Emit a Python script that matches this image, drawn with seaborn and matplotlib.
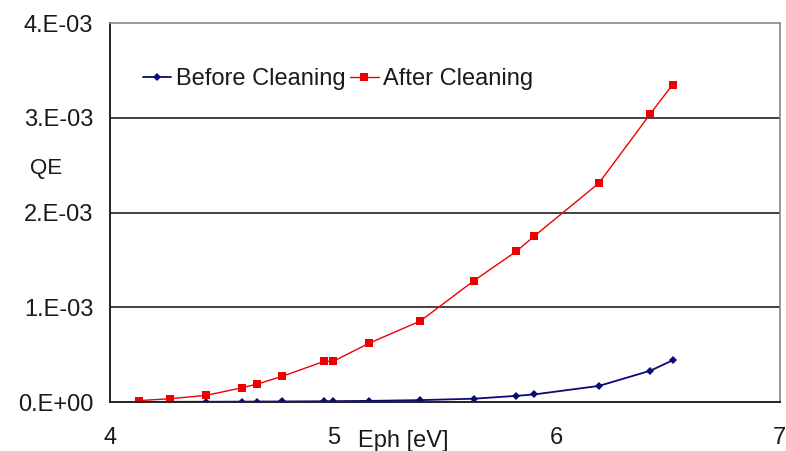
import matplotlib
matplotlib.use("Agg")
import matplotlib.pyplot as plt
import seaborn as sns
import pandas as pd
from matplotlib.ticker import MultipleLocator

eph = [4.13, 4.27, 4.43, 4.59, 4.66, 4.77, 4.96, 5.00, 5.16, 5.39, 5.63, 5.82, 5.90, 6.19, 6.42, 6.52]
qe_after = [1.5e-5, 3.5e-5, 7.0e-5, 1.5e-4, 1.9e-4, 2.7e-4, 4.3e-4, 4.3e-4, 6.2e-4, 8.55e-4,
            1.28e-3, 1.59e-3, 1.75e-3, 2.31e-3, 3.04e-3, 3.35e-3]
qe_before = [1e-6, 2e-6, 3e-6, 4e-6, 5e-6, 6e-6, 8e-6, 9e-6, 1.2e-5, 2.0e-5,
             3.5e-5, 6.5e-5, 8.0e-5, 1.7e-4, 3.3e-4, 4.4e-4]
y_ticks = [0.0, 1e-3, 2e-3, 3e-3, 4e-3]
y_labels = ["0.E+00", "1.E-03", "2.E-03", "3.E-03", "4.E-03"]
x_ticks = [4, 5, 6, 7]
series_names = ["Before Cleaning", "After Cleaning"]

sns.set_style("white")
plt.rcParams['font.family'] = ['Liberation Sans', 'DejaVu Sans']

df = pd.concat([
    pd.DataFrame({"Eph": eph, "QE": qe_before, "series": series_names[0]}),
    pd.DataFrame({"Eph": eph, "QE": qe_after, "series": series_names[1]}),
])

fig = plt.figure(figsize=(7.86, 4.51), dpi=100)
ax = fig.add_axes([0.140, 0.1086, 0.852, 0.8404])

sns.lineplot(data=df[df.series == series_names[0]], x="Eph", y="QE", ax=ax,
             color="#0a0a78", marker="D", markersize=4, markeredgewidth=0,
             linewidth=1.3, label=series_names[0], estimator=None, sort=False)
sns.lineplot(data=df[df.series == series_names[1]], x="Eph", y="QE", ax=ax,
             color="#ee0000", marker="s", markersize=6, markeredgewidth=0,
             linewidth=1.0, label=series_names[1], estimator=None, sort=False)

ax.set_xlim(4, 7)
ax.set_ylim(0, 4e-3)
ax.set_yticks(y_ticks)
ax.set_yticklabels(y_labels)
ax.set_xticks(x_ticks)
ax.set_xticklabels([str(t) for t in x_ticks])
ax.xaxis.set_minor_locator(MultipleLocator(0.2))
ax.yaxis.set_minor_locator(MultipleLocator(1e-4))
ax.tick_params(axis="y", which="both", direction="in", length=6, width=1, color="#222222",
               labelsize=17, pad=12, labelcolor="#1a1a1a")
ax.tick_params(axis="x", which="both", direction="in", length=7, width=1, color="#222222",
               labelsize=17, pad=18, labelcolor="#1a1a1a")
ax.tick_params(axis="y", which="major", length=0)

for y in y_ticks[1:4]:
    ax.axhline(y, color="#333333", linewidth=1.3, zorder=0)

for side in ["left", "bottom"]:
    ax.spines[side].set_color("#222222")
    ax.spines[side].set_linewidth(1.4)
for side in ["top", "right"]:
    ax.spines[side].set_color("#888888")
    ax.spines[side].set_linewidth(1.2)

ax.set_xlabel("")
ax.set_ylabel("")
fig.text(0.059, 0.627, "QE", fontsize=16, color="#1a1a1a", ha="center", va="center")
fig.text(0.513, 0.022, "Eph [eV]", fontsize=17, color="#1a1a1a", ha="center", va="center")

leg = ax.legend(loc="upper left", bbox_to_anchor=(0.035, 0.905), ncol=2, frameon=False,
                fontsize=17, handlelength=1.2, handletextpad=0.2, columnspacing=0.2,
                borderaxespad=0)
for t in leg.get_texts():
    t.set_color("#1a1a1a")

fig.savefig("out.png", dpi=100)
